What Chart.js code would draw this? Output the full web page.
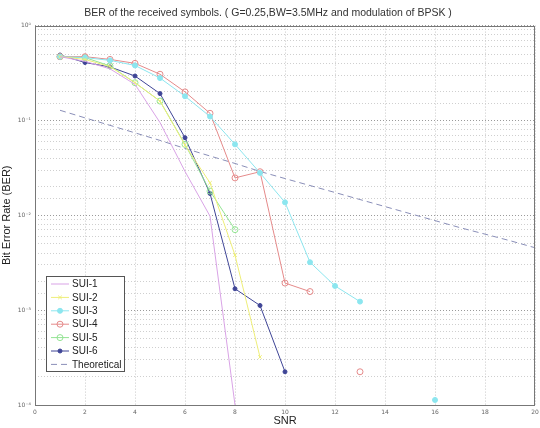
<!DOCTYPE html>
<html>
<head>
<meta charset="utf-8">
<script src="https://cdn.jsdelivr.net/npm/chart.js@4/dist/chart.umd.min.js"></script>
<style>
html,body{margin:0;padding:0;background:#fff;}
canvas{display:block;}
</style>
</head>
<body>
<canvas id="c" width="540" height="428"></canvas>
<script>
// SNR categories
const snr = [1,2,3,4,5,6,7,8,9,10,11,12,13,14,15,16,17,18,19,20];
// BER series (null = no point)
const sui1 = [0.47,0.42,0.35,0.24,0.095,0.029,0.0098,0.0001];
const sui2 = [0.47,0.44,0.37,0.25,0.16,0.055,0.022,0.0038,0.00032];
const sui3 = [0.47,0.46,0.43,0.38,0.28,0.18,0.11,0.056,0.028,0.0137,0.0032,0.0018,0.00123,null,null,0.000113];
const sui4 = [0.47,0.47,0.44,0.40,0.307,0.20,0.119,0.0248,0.0288,0.00193,0.00157,null,0.000224];
const sui5 = [0.47,0.46,0.376,0.25,0.16,0.056,0.018,0.00706];
const sui6 = [0.49,0.408,0.367,0.294,0.192,0.0658,0.017,0.00168,0.00112,0.000224];
const theoretical = [0.128,0.1065,0.0888,0.0740,0.0616,0.0507,0.0422,0.0352,0.0290,0.0244,0.0206,0.0174,0.01466,0.01236,0.01042,0.00879,0.00741,0.00633,0.00540,0.00455];
// axis ticks
const xTicks = [0,2,4,6,8,10,12,14,16,18,20];
const yDecades = ['10\u2070','10\u207B\u00B9','10\u207B\u00B2','10\u207B\u00B3','10\u207B\u2074'];

function pts(arr){ return arr.map((v,i)=>({x:snr[i], y:v})); }

const datasets = [
  {label:'SUI-1', data:pts(sui1), borderColor:'#d9a3e6', backgroundColor:'#d9a3e6', pointRadius:0, pointStyle:false},
  {label:'SUI-2', data:pts(sui2), borderColor:'#eeee78', backgroundColor:'#eeee78', pointRadius:2.5, pointStyle:'crossRot'},
  {label:'SUI-3', data:pts(sui3), borderColor:'#8ce6ef', backgroundColor:'#8ce6ef', pointRadius:2.5, pointStyle:'circle'},
  {label:'SUI-4', data:pts(sui4), borderColor:'#e58a8a', backgroundColor:'rgba(0,0,0,0)', pointRadius:3, pointStyle:'circle'},
  {label:'SUI-5', data:pts(sui5), borderColor:'#93e493', backgroundColor:'rgba(0,0,0,0)', pointRadius:3, pointStyle:'circle'},
  {label:'SUI-6', data:pts(sui6), borderColor:'#3f4596', backgroundColor:'#3f4596', pointRadius:2, pointStyle:'circle'},
  {label:'Theoretical', data:pts(theoretical), borderColor:'#8a8fb8', backgroundColor:'#8a8fb8', pointRadius:0, pointStyle:false, borderDash:[6,4]}
];
datasets.forEach(d=>{ d.borderWidth=1; d.pointBorderWidth=1; d.tension=0; d.spanGaps=false; d.fill=false; });

function isPow(v){ const l=Math.log10(v); return Math.abs(l-Math.round(l))<1e-6; }

const framePlugin = {
  id:'frameLegend',
  afterDraw(chart){
    const ctx=chart.ctx, a=chart.chartArea;
    ctx.save();
    ctx.strokeStyle='#777'; ctx.lineWidth=1; ctx.setLineDash([]);
    ctx.strokeRect(Math.round(a.left)+0.5, Math.round(a.top)+0.5, Math.round(a.right-a.left)-1, Math.round(a.bottom-a.top));
    // legend box
    const bx=46, by=276, bw=78, bh=95;
    ctx.fillStyle='#fff'; ctx.fillRect(bx,by,bw,bh);
    ctx.strokeStyle='#555'; ctx.strokeRect(bx+0.5,by+0.5,bw,bh);
    ctx.font='10px "Liberation Sans", Arial, sans-serif';
    ctx.textBaseline='middle';
    chart.data.datasets.forEach((d,i)=>{
      const y=by+8+i*13.4;
      ctx.strokeStyle=d.borderColor; ctx.lineWidth=1;
      ctx.setLineDash(d.borderDash||[]);
      ctx.beginPath(); ctx.moveTo(51,y); ctx.lineTo(69,y); ctx.stroke();
      ctx.setLineDash([]);
      if(d.pointStyle){
        ctx.fillStyle=d.backgroundColor; ctx.strokeStyle=d.borderColor;
        Chart.helpers.drawPoint(ctx,{pointStyle:d.pointStyle,radius:d.pointRadius,borderWidth:1,rotation:0},60,y);
      }
      ctx.fillStyle='#222';
      ctx.fillText(d.label,72,y+0.5);
    });
    ctx.restore();
  }
};

new Chart(document.getElementById('c'),{
  type:'line',
  data:{datasets},
  plugins:[framePlugin],
  options:{
    responsive:false, animation:false, devicePixelRatio:1,
    layout:{padding:{top:2,right:4,left:0,bottom:0}},
    plugins:{
      legend:{display:false},
      tooltip:{enabled:false},
      title:{display:true, text:'BER of the received symbols. ( G=0.25,BW=3.5MHz and modulation of BPSK )',
        color:'#333', font:{family:'"Liberation Sans", Arial, sans-serif', size:10.5, weight:'normal'}, padding:{top:5,bottom:6}}
    },
    scales:{
      x:{type:'linear', min:0, max:20,
        afterBuildTicks(s){ s.ticks = xTicks.map(v=>({value:v})); },
        afterFit(s){ s.height=23; s.paddingLeft=0; s.paddingRight=0; },
        grid:{color:'#c8c8c8', lineWidth:1, drawTicks:false},
        border:{display:false, dash:[1,2]},
        ticks:{color:'#666', font:{family:'"DejaVu Sans", sans-serif', size:6}, padding:4, maxRotation:0},
        title:{display:true, text:'SNR', color:'#222', font:{family:'"Liberation Sans", Arial, sans-serif', size:11}, padding:{top:0,bottom:0}}
      },
      y:{type:'logarithmic', min:0.0001, max:1,
        afterFit(s){ s.width=35; },
        grid:{color:(c)=> isPow(c.tick.value)?'#9a9a9a':'#cfcfcf', lineWidth:1, drawTicks:false},
        border:{display:false, dash:[1,2]},
        ticks:{autoSkip:false, color:'#666', font:{family:'"DejaVu Sans", sans-serif', size:6}, padding:4,
          callback:(v)=>{ if(!isPow(v)) return ''; const e=Math.round(-Math.log10(v)); return yDecades[e]; }},
        title:{display:true, text:'Bit Error Rate (BER)', color:'#222', font:{family:'"Liberation Sans", Arial, sans-serif', size:11}, padding:{top:0,bottom:2}}
      }
    }
  }
});
</script>
</body>
</html>
